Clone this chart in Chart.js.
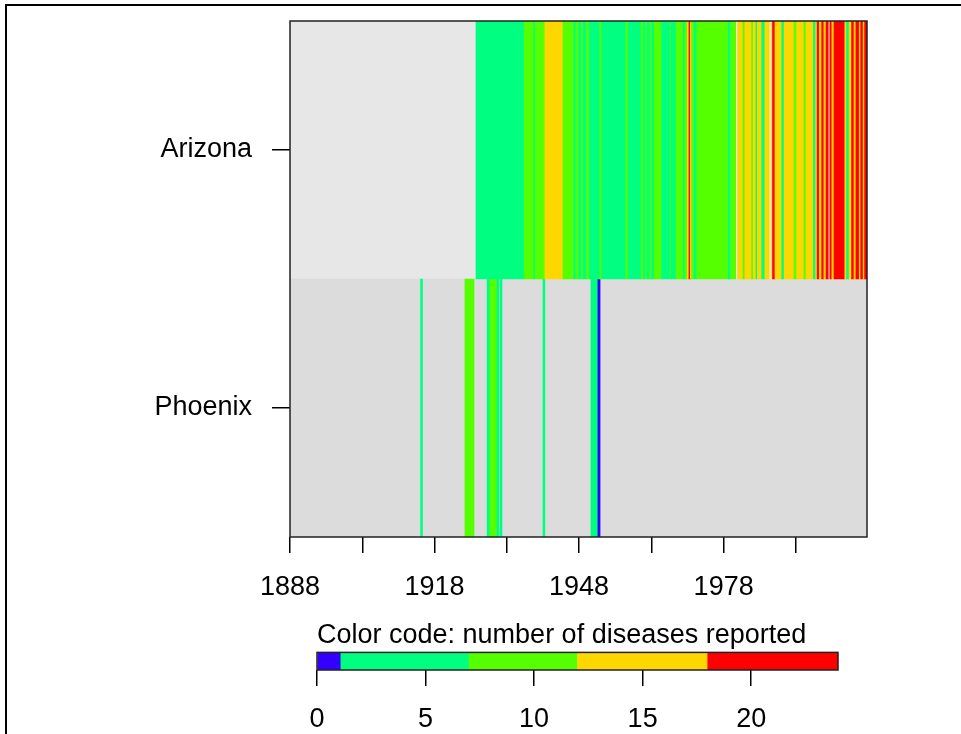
<!DOCTYPE html>
<html>
<head>
<meta charset="utf-8">
<script src="https://cdn.jsdelivr.net/npm/chart.js@4.4.0/dist/chart.umd.min.js"></script>
<style>
  html, body { margin: 0; padding: 0; background: #fff; }
  body { width: 961px; height: 734px; position: relative; overflow: hidden; }
  #frame { position: absolute; left: 5px; top: 4px; width: 1000px; height: 800px; border-top: 2px solid #000; border-left: 2px solid #000; }
  #main { position: absolute; left: 0; top: 0; }
  #key { position: absolute; left: 0; top: 600px; }
</style>
</head>
<body>
<div id="frame"></div>
<canvas id="main" width="961" height="610"></canvas>
<canvas id="key" width="961" height="134"></canvas>
<script>
// rows and x axis
const rows = ['Arizona', 'Phoenix'];
const rowGrey = ['#E7E7E7', '#DCDCDC'];
const yearMin = 1888;
const yearMax = 2007.75;
const xTicks = [1888, 1903, 1918, 1933, 1948, 1963, 1978, 1993];
const xTickLabels = ['1888', '', '1918', '', '1948', '', '1978', ''];

// Arizona: stripe edges (years) and number of diseases in each stripe (null = no data)
const azBreaks = [1926.6, 1936.6, 1938.6, 1938.9, 1940.9, 1944.65, 1946.9, 1947.35, 1947.9, 1948.5,
  1948.85, 1949.55, 1950.1, 1952.3, 1952.7, 1957.7, 1958.15, 1960.9, 1961.3, 1961.8,
  1962.1, 1962.7, 1963.05, 1963.6, 1965.1, 1966.85, 1967.05, 1968.1, 1969.6, 1970.0,
  1970.45, 1970.8, 1971.1, 1971.35, 1971.85, 1972.4, 1978.95, 1979.45, 1980.5, 1980.9,
  1982.0, 1982.4, 1983.8, 1984.15, 1984.7, 1985.0, 1985.9, 1986.55, 1987.45, 1987.95,
  1988.15, 1988.65, 1990.05, 1990.55, 1992.6, 1993.15, 1994.65, 1995.1, 1996.6, 1997.1,
  1997.4, 1997.85, 1998.35, 1998.8, 1999.25, 1999.7, 2000.05, 2000.45, 2000.9, 2003.15,
  2003.5, 2004.05, 2004.55, 2005.05, 2005.45, 2006.15, 2006.45, 2006.95, 2007.25, 2007.75];
const azCounts = [5, 9, 6, 8, 14, 10, 6, 8, 5, 8,
  6, 9, 4, 8, 5, 8, 6, 8, 5, 8,
  6, 9, 6, 10, 5, 8, 6, 9, 6, 8,
  13, 19, 13, 9, 6, 10, 6, 11, null, 14,
  11, 15, 11, 13, 7, 14, 7, 15, null, 16,
  19, 15, 6, 16, 10, 14, 11, 16, 7, 17,
  20, 17, 19, 16, 21, null, 19, 17, 22, 17,
  7, 16, 20, 17, 21, 17, 23, 16, 20];

// Phoenix
const phxBreaks = [1915.1, 1915.5, 1924.3, 1926.2, 1928.9, 1929.5, 1930.95, 1931.35, 1931.6, 1932.0,
  1940.5, 1940.9, 1950.45, 1951.9, 1952.35];
const phxCounts = [3, null, 9, null, 4, 8, 5, null, 2, null, 3, null, 5, 1];

// colour key
const keyBreaks = [0, 1.1, 7, 12, 18, 24];
const keyColors = ['#3300FF', '#00FF80', '#55FF00', '#FFD700', '#FF0000'];
const keyTicks = [0, 5, 10, 15, 20];
const keyTitle = 'Color code: number of diseases reported';

Chart.defaults.font.family = '"Liberation Sans", Arial, sans-serif';
Chart.defaults.font.size = 27;
Chart.defaults.color = '#000';

function colorFor(n) {
  for (let i = 1; i < keyBreaks.length; i++) {
    if (n <= keyBreaks[i]) return keyColors[i - 1];
  }
  return keyColors[keyColors.length - 1];
}

function stripes(row, breaks, counts) {
  const data = [], colors = [];
  counts.forEach((n, i) => {
    if (n === null) return;
    data.push({ x: [breaks[i], breaks[i + 1]], y: row });
    colors.push(colorFor(n));
  });
  return { data, backgroundColor: colors, borderWidth: 0 };
}

const boxPlugin = {
  id: 'box',
  afterDraw(chart) {
    const { ctx, chartArea: a } = chart;
    ctx.save();
    ctx.strokeStyle = '#222';
    ctx.lineWidth = 1.5;
    ctx.strokeRect(a.left, a.top, a.right - a.left, a.bottom - a.top);
    ctx.restore();
  }
};

const tickGrid = len => ({ drawOnChartArea: false, offset: false, tickLength: len, color: '#000', lineWidth: 1.5 });

new Chart(document.getElementById('main'), {
  type: 'bar',
  data: {
    datasets: [
      stripes(rows[0], azBreaks, azCounts),
      stripes(rows[1], phxBreaks, phxCounts),
      {
        data: rows.map(r => ({ x: [yearMin, yearMax], y: r })),
        backgroundColor: rowGrey,
        borderWidth: 0
      }
    ]
  },
  options: {
    indexAxis: 'y',
    responsive: false,
    animation: false,
    layout: { padding: { left: 0, top: 21, right: 94, bottom: 0 } },
    plugins: { legend: { display: false }, tooltip: { enabled: false } },
    datasets: { bar: { barPercentage: 1, categoryPercentage: 1, grouped: false } },
    scales: {
      x: {
        type: 'linear',
        min: yearMin,
        max: yearMax,
        afterBuildTicks: s => { s.ticks = xTicks.map(v => ({ value: v })); },
        afterFit: s => { s.height = 73; },
        grid: tickGrid(16),
        border: { display: false },
        ticks: { padding: 18, autoSkip: false, maxRotation: 0, callback: (v, i) => xTickLabels[i] }
      },
      y: {
        type: 'category',
        labels: rows,
        afterFit: s => { s.width = 290; s.paddingTop = 0; s.paddingBottom = 0; },
        grid: tickGrid(18),
        border: { display: false },
        ticks: { padding: 20 }
      }
    }
  },
  plugins: [boxPlugin]
});

new Chart(document.getElementById('key'), {
  type: 'bar',
  data: {
    datasets: [{
      data: keyColors.map((c, i) => ({ x: [keyBreaks[i], keyBreaks[i + 1]], y: 'key' })),
      backgroundColor: keyColors,
      borderWidth: 0
    }]
  },
  options: {
    indexAxis: 'y',
    responsive: false,
    animation: false,
    layout: { padding: { left: 317, top: 0, right: 123, bottom: 0 } },
    plugins: {
      legend: { display: false },
      tooltip: { enabled: false },
      title: {
        display: true,
        text: keyTitle,
        align: 'start',
        color: '#000',
        font: { size: 27, weight: 'normal' },
        padding: { top: 19, bottom: 1 }
      }
    },
    datasets: { bar: { barPercentage: 1, categoryPercentage: 1 } },
    scales: {
      x: {
        type: 'linear',
        min: keyBreaks[0],
        max: keyBreaks[keyBreaks.length - 1],
        afterBuildTicks: s => { s.ticks = keyTicks.map(v => ({ value: v })); },
        afterFit: s => { s.height = 64; },
        grid: tickGrid(16),
        border: { display: false },
        ticks: { padding: 17, autoSkip: false, maxRotation: 0 }
      },
      y: { type: 'category', labels: ['key'], display: false }
    }
  },
  plugins: [boxPlugin]
});
</script>
</body>
</html>
